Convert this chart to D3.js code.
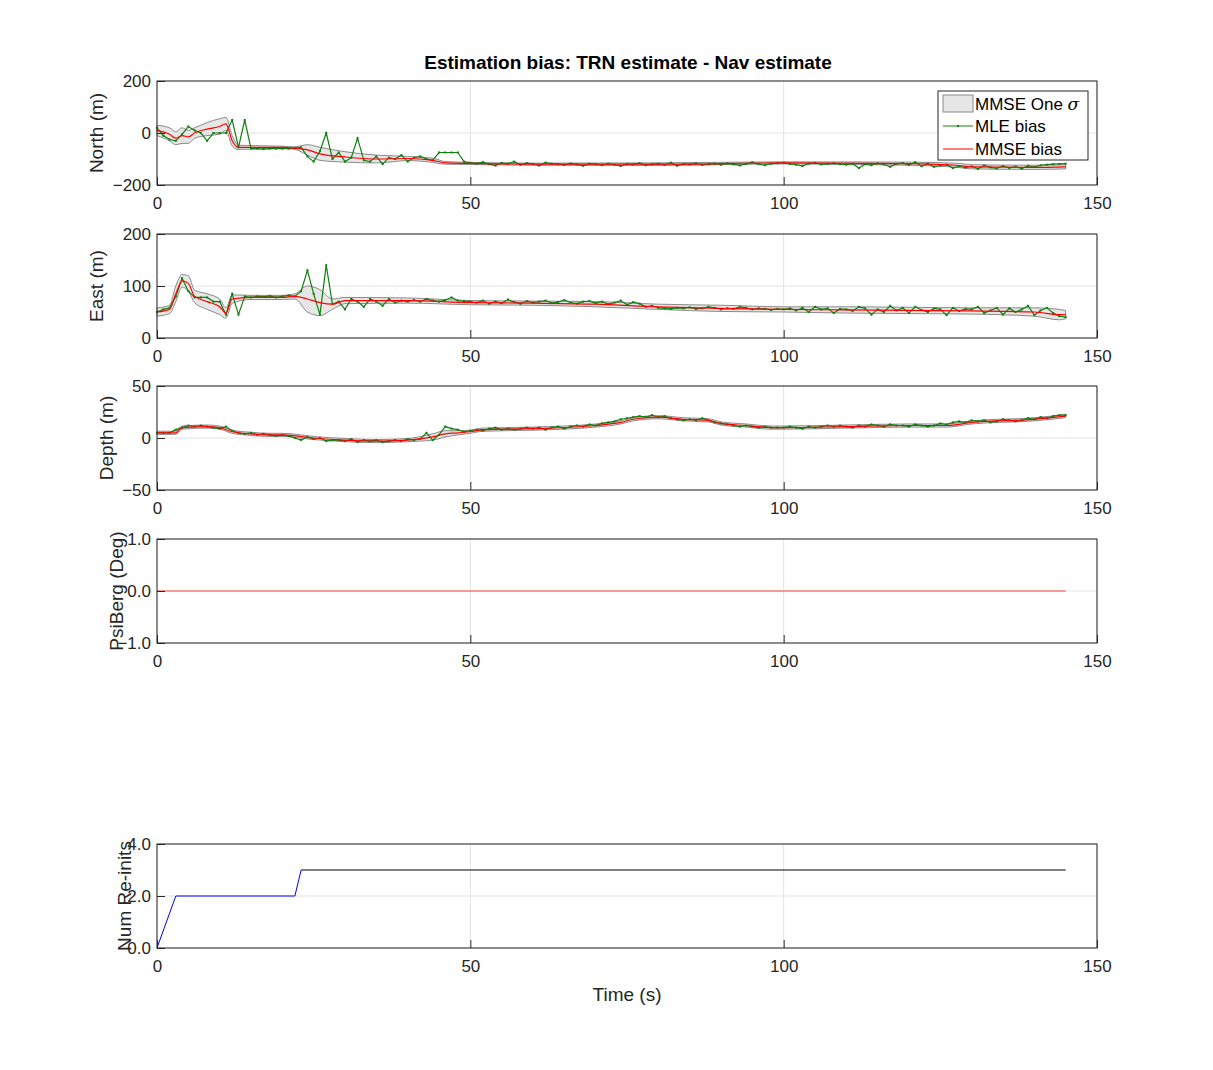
<!DOCTYPE html>
<html><head><meta charset="utf-8">
<script src="https://cdn.jsdelivr.net/npm/d3@7"></script>
<style>body{margin:0;background:#fff}text{font-family:"Liberation Sans",Arial,sans-serif}</style>
</head><body><div id="chart"></div>
<script>
// MLE bias sampled once per second, t = 0..145
const mleT = d3.range(0, 146);
const northMle = [20,-10,-25,-30,-5,25,10,0,-30,0,0,0,50,-55,50,
  -60,-60,-62,-60,-60,-60,-60,-58,
  -55,-90,-110,-70,0,-100,-75,-110,-95,-20,-105,-110,-90,-120,-95,-100,-85,-110,-95,-90,-100,-105,
  -75,-75,-75,-75,-110,
  -115,-118,-112,-120,-125,-115,-118,-110,-122,-116,-119,-125,-114,-118,-120,-123,-117,-121,-126,-118,
  -120,-124,-118,-122,-127,-119,-121,-116,-124,-120,-118,-122,-114,-126,-119,-121,-117,-123,-120,-118,
  -122,-117,-121,-125,-119,-113,-120,-124,-118,-116,-114,-119,-122,-127,-118,-115,-121,-119,-117,-120,
  -122,-118,-135,-120,-124,-117,-121,-130,-119,-116,-123,-112,-128,-118,-130,-125,-122,-135,-128,-133,
  -128,-138,-125,-132,-136,-127,-134,-129,-137,-126,-131,-124,-122,-120,-119,-118];
const eastMle = [50,55,58,80,115,90,78,78,78,70,70,45,85,45,80,
  78,80,79,81,78,80,82,80,
  90,130,85,45,140,65,70,55,75,70,60,75,70,62,75,68,72,70,
  73,70,75,72,70,73,78,72,71,
  70,68,72,66,70,67,74,69,66,71,68,70,72,67,69,73,68,66,70,71,
  67,70,65,68,72,64,69,66,60,62,58,57,56,58,57,59,56,57,60,58,
  55,57,56,60,58,55,57,56,54,56,55,57,53,58,50,60,55,57,48,56,
  55,52,60,57,45,55,50,62,53,58,48,60,54,50,57,55,44,58,52,56,
  55,60,48,53,58,45,57,50,55,62,44,53,58,48,42,40];
const depthMle = [5,5,5,8,10,12,11,12,11,10,9,11,7,5,4,5,3,4,3,2,
  3,2,0,-2,1,-1,0,-3,-2,-2,-3,-1,-4,-2,-3,-2,-4,-3,-2,-3,
  -1,-2,-1,5,-2,3,11,9,8,6,7,8,7,9,10,8,9,8,9,10,
  9,10,8,10,11,9,11,12,11,13,12,14,15,16,18,19,20,21,20,22,
  20,21,19,18,17,18,17,19,17,15,14,13,12,11,12,11,10,11,10,10,
  10,11,10,9,11,10,11,12,11,12,11,10,12,11,13,12,11,13,12,12,
  11,13,12,11,12,14,13,15,16,15,17,16,17,15,16,18,17,16,17,19,
  18,20,19,21,22,22];

// MMSE bias and one-sigma half width at knot times
const northT    = [0,2,3,4,5,6,8,10,11,12,13,20,22,24,26,30,35,40,44,46,50,60,80,100,120,128,130,140,145];
const northMmse = [10,-5,-20,-10,-15,0,15,25,35,-30,-55,-55,-58,-65,-80,-92,-100,-98,-105,-115,-117,-120,-120,-115,-118,-125,-130,-132,-130];
const northSig  = [20,25,25,30,25,20,25,30,25,20,8,4,5,20,25,20,15,8,8,5,4,4,5,4,6,8,8,8,8];

const eastT    = [0,2,3,4,5,6,8,10,11,12,15,20,22,24,26,28,30,40,50,60,70,80,90,100,110,120,130,140,144,145];
const eastMmse = [50,55,85,110,105,80,70,60,48,75,78,78,80,75,68,65,72,72,68,67,65,60,57,55,54,53,52,50,45,45];
const eastSig  = [8,8,15,12,15,12,15,15,10,8,4,4,5,25,25,10,6,5,4,4,5,5,6,5,6,6,6,8,10,8];

const depthT    = [0,3,4,8,10,12,15,18,20,25,30,35,40,44,46,48,50,52,60,70,74,76,80,84,88,90,94,98,100,110,120,126,130,140,145];
const depthMmse = [5,5,10,11,10,6,4,3,3,0,-2,-3,-2,1,4,5,6,8,9,12,15,18,20,18,17,14,12,10,10,11,12,12,15,18,21];
const depthSig  = [1.5,1.5,1.5,1.5,1.5,1.5,1.5,1.5,1.5,1.5,1.5,1.5,1.5,3,3,2,1.5,1.5,1.5,1.5,1.5,1.5,1.5,1.5,1.5,1.5,1.5,1.5,1.5,1.5,1.5,1.5,1.5,1.5,1.5];

const psiT = [0,145];
const psiVal = [0,0];

const reinitBlueT = [0,3,22,23];
const reinitBlue  = [0,2,2,3];
const reinitBlackT = [23,145];
const reinitBlack  = [3,3];

const xTicks = [0,50,100,150];

const svg = d3.select("#chart").append("svg").attr("width",1213).attr("height",1070);

const x = d3.scaleLinear().domain([0,150]).range([157,1097]);

function panel(top, dom, ticks, label){
  const y = d3.scaleLinear().domain(dom).range([top+104, top]);
  const g = svg.append("g");
  g.selectAll(".gx").data(xTicks).join("line")
    .attr("x1",d=>x(d)).attr("x2",d=>x(d)).attr("y1",top).attr("y2",top+104)
    .attr("stroke","#e3e3e3");
  g.selectAll(".gy").data(ticks).join("line")
    .attr("x1",157).attr("x2",1097).attr("y1",d=>y(d)).attr("y2",d=>y(d))
    .attr("stroke","#e3e3e3");
  const ax = d3.axisBottom(x).tickValues(xTicks).tickSize(-8).tickPadding(12);
  const xa = svg.append("g").attr("transform",`translate(0,${top+104})`).call(ax);
  const ay = svg.append("g").attr("transform","translate(157,0)")
    .call(d3.axisLeft(y).tickValues(ticks).tickSize(-8).tickPadding(6));
  [xa,ay].forEach(a=>{
    a.select(".domain").remove();
    a.selectAll("text").attr("font-size",17).attr("fill","#262626");
    a.selectAll("line").attr("stroke","#262626");
  });
  svg.append("text").attr("transform",`translate(${label[1]},${top+52}) rotate(-90)`)
    .attr("text-anchor","middle").attr("font-size",19).attr("fill","#262626").text(label[0]);
  return {y, g, top};
}

function frame(p){
  svg.append("rect").attr("x",157).attr("y",p.top).attr("width",940).attr("height",104)
    .attr("fill","none").attr("stroke","#262626");
}

function estPanel(p, T, mmse, sig, mle){
  const y = p.y;
  const band = T.map((t,i)=>({t, lo:mmse[i]-sig[i], hi:mmse[i]+sig[i]}));
  p.g.append("path").datum(band)
    .attr("d", d3.area().x(d=>x(d.t)).y0(d=>y(d.lo)).y1(d=>y(d.hi)).curve(d3.curveMonotoneX))
    .attr("fill","#e6e6e6").attr("stroke","#8a8a8a").attr("stroke-width",1);
  const mleData = mleT.map((t,i)=>({t, v:mle[i]}));
  p.g.append("path").datum(mleData)
    .attr("d", d3.line().x(d=>x(d.t)).y(d=>y(d.v)))
    .attr("fill","none").attr("stroke","#108010").attr("stroke-width",1.2);
  p.g.selectAll(".pt").data(mleData).join("rect")
    .attr("x",d=>x(d.t)-1).attr("y",d=>y(d.v)-1).attr("width",2).attr("height",2).attr("fill","#108010");
  p.g.append("path").datum(T.map((t,i)=>({t, v:mmse[i]})))
    .attr("d", d3.line().x(d=>x(d.t)).y(d=>y(d.v)).curve(d3.curveMonotoneX))
    .attr("fill","none").attr("stroke","#ff0000").attr("stroke-width",1.2);
}

const p1 = panel(81,[-200,200],[-200,0,200],["North (m)",103]);
estPanel(p1, northT, northMmse, northSig, northMle); frame(p1);
const p2 = panel(234,[0,200],[0,100,200],["East (m)",103]);
estPanel(p2, eastT, eastMmse, eastSig, eastMle); frame(p2);
const p3 = panel(386,[-50,50],[-50,0,50],["Depth (m)",113]);
estPanel(p3, depthT, depthMmse, depthSig, depthMle); frame(p3);
const p4 = panel(539,[-1,1],[-1,0,1],["PsiBerg (Deg)",123]);
p4.g.append("path").datum(psiT.map((t,i)=>({t,v:psiVal[i]})))
  .attr("d", d3.line().x(d=>x(d.t)).y(d=>p4.y(d.v)))
  .attr("fill","none").attr("stroke","#ff4040").attr("stroke-width",1.2);
frame(p4);
const p5 = panel(844,[0,4],[0,2,4],["Num Re-inits",131]);
p5.g.append("path").datum(reinitBlueT.map((t,i)=>({t,v:reinitBlue[i]})))
  .attr("d", d3.line().x(d=>x(d.t)).y(d=>p5.y(d.v)))
  .attr("fill","none").attr("stroke","#0000ff").attr("stroke-width",1);
p5.g.append("path").datum(reinitBlackT.map((t,i)=>({t,v:reinitBlack[i]})))
  .attr("d", d3.line().x(d=>x(d.t)).y(d=>p5.y(d.v)))
  .attr("fill","none").attr("stroke","#000").attr("stroke-width",1);
frame(p5);

svg.append("text").attr("x",628).attr("y",69).attr("text-anchor","middle")
  .attr("font-size",19).attr("font-weight","bold").attr("fill","#000")
  .text("Estimation bias: TRN estimate - Nav estimate");
svg.append("text").attr("x",627).attr("y",1001).attr("text-anchor","middle")
  .attr("font-size",19).attr("fill","#262626").text("Time (s)");

// legend
const lg = svg.append("g");
lg.append("rect").attr("x",938).attr("y",91).attr("width",150).attr("height",69)
  .attr("fill","#fff").attr("stroke","#262626");
lg.append("rect").attr("x",943).attr("y",95).attr("width",30).attr("height",17)
  .attr("fill","#e6e6e6").attr("stroke","#8a8a8a");
lg.append("line").attr("x1",943).attr("x2",973).attr("y1",126).attr("y2",126).attr("stroke","#108010");
lg.append("rect").attr("x",957).attr("y",125).attr("width",2).attr("height",2).attr("fill","#108010");
lg.append("line").attr("x1",943).attr("x2",973).attr("y1",149).attr("y2",149).attr("stroke","#ff0000");
const lt = lg.append("text").attr("x",975).attr("y",110).attr("font-size",17).attr("fill","#000");
lt.append("tspan").text("MMSE One ");
lt.append("tspan").attr("font-style","italic").attr("font-family","DejaVu Serif").text("σ");
lg.append("text").attr("x",975).attr("y",132).attr("font-size",17).attr("fill","#000").text("MLE bias");
lg.append("text").attr("x",975).attr("y",155).attr("font-size",17).attr("fill","#000").text("MMSE bias");
</script></body></html>
